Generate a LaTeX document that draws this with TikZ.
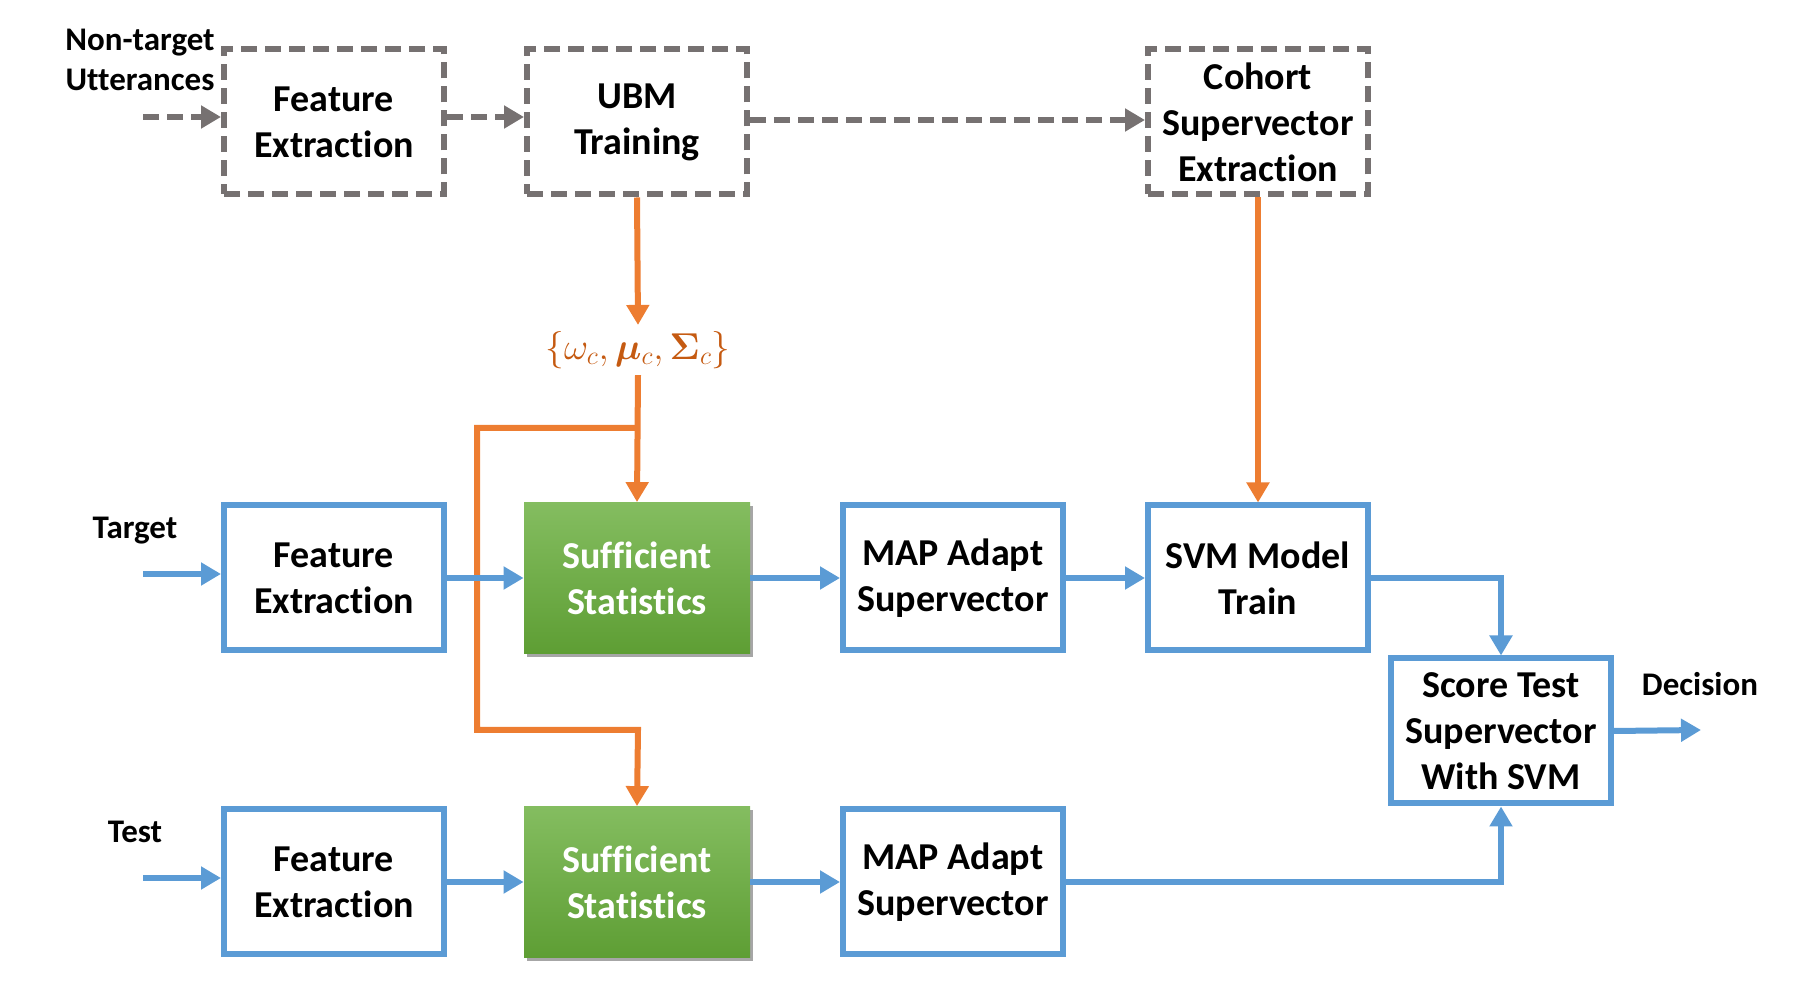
\documentclass[tikz,border=0pt]{standalone}
\usepackage{fontspec}
\usepackage{amsmath,bm,graphicx}
\setmainfont[Ligatures=NoCommon]{Carlito}
\usetikzlibrary{arrows.meta,shadows}
\definecolor{flowblue}{HTML}{5B9BD5}
\definecolor{ubmorange}{HTML}{ED7D31}
\definecolor{paramorange}{HTML}{C55A11}
\definecolor{dashgray}{HTML}{767171}
\definecolor{greentop}{HTML}{84BD60}
\definecolor{greenbot}{HTML}{5E9E34}
\tikzset{
  boxtext/.style={font=\fontsize{19}{23}\selectfont\bfseries, align=center},
  bluebox/.style={boxtext, draw=flowblue, line width=3pt, fill=white,
    minimum width=110pt, minimum height=72.5pt, inner sep=0pt},
  graybox/.style={boxtext, draw=dashgray, line width=3pt, dash pattern=on 8pt off 4pt,
    minimum width=110pt, minimum height=72.5pt, inner sep=0pt},
  greenbox/.style={boxtext, text=white, top color=greentop, bottom color=greenbot,
    minimum width=113pt, minimum height=75.5pt, inner sep=0pt,
    drop shadow={shadow xshift=1.5pt, shadow yshift=-2pt, opacity=0.35, fill=black}},
  lbl/.style={font=\fontsize{16.5}{20}\selectfont\bfseries, align=center, inner sep=0pt},
  tip/.style={-{Triangle[length=10pt,width=11pt]}},
  bluearrow/.style={tip, draw=flowblue, line width=3pt},
  orangearrow/.style={tip, draw=ubmorange, line width=3pt},
  grayarrow/.style={tip, draw=dashgray, line width=3pt, dash pattern=on 8pt off 4pt},
}
\begin{document}
\begin{tikzpicture}[x=0.5pt, y=-0.5pt]
\useasboundingbox (0,0) rectangle (1796,983);

% UBM training branch (dashed)
\node[graybox] (fe1) at (334,122) {Feature\\Extraction};
\node[graybox] (ubm) at (637,122) {UBM\\Training};
\node[graybox] (coh) at (1258,122) {Cohort\\Supervector\\Extraction};
\node[lbl] (nontarget) at (140,60) {Non-target\\Utterances};
\coordinate (in1) at (143,117);
\coordinate (ubmout) at (750,120);

% target enrollment row
\node[bluebox] (fe2) at (334,578) {Feature\\Extraction};
\node[greenbox] (ss1) at (637,578) {Sufficient\\Statistics};
\node[bluebox] (map1) at (953,578) {MAP Adapt\\Supervector};
\node[bluebox] (svm) at (1258,578) {SVM Model\\Train};
\node[lbl] (target) at (135,531) {Target};
\coordinate (in2) at (143,574);

% test row
\node[bluebox] (fe3) at (334,882) {Feature\\Extraction};
\node[greenbox] (ss2) at (637,882) {Sufficient\\Statistics};
\node[bluebox] (map2) at (953,882) {MAP Adapt\\Supervector};
\node[lbl] (test) at (135,832) {Test};
\coordinate (in3) at (143,878);

% scoring
\node[bluebox] (score) at (1501,731) {Score Test\\Supervector\\With SVM};
\node[lbl] (decision) at (1700,684) {Decision};
\coordinate (out) at (1701,730);

% UBM parameters
\node[text=paramorange, font=\fontsize{20}{24}\selectfont, inner sep=3pt] (params) at (638,350)
  {\scalebox{0.9}{$\{\omega_c, \bm{\mu}_c, \bm{\Sigma}_c\}$}};
\coordinate (split) at (638,428);

% dashed connectors
\draw[grayarrow] (in1) -- (fe1.west |- in1);
\draw[grayarrow] (fe1.east |- in1) -- (ubm.west |- in1);
\draw[grayarrow] (ubmout) -- (coh.west |- ubmout);

% orange connectors
\draw[orangearrow] (ubm.south) -- (params.north);
\draw[orangearrow] (params.south) -- (ss1.north);
\draw[orangearrow] (split) -- (477,428) -- (477,730) -- (638,730) -- (ss2.north);
\draw[orangearrow] (coh.south) -- (svm.north);

% blue connectors
\draw[bluearrow] (in2) -- (fe2.west |- in2);
\draw[bluearrow] (fe2) -- (ss1);
\draw[bluearrow] (ss1) -- (map1);
\draw[bluearrow] (map1) -- (svm);
\draw[bluearrow] (svm.east) -| (score.north);
\draw[bluearrow] (in3) -- (fe3.west |- in3);
\draw[bluearrow] (fe3) -- (ss2);
\draw[bluearrow] (ss2) -- (map2);
\draw[bluearrow] (map2.east) -| (score.south);
\draw[bluearrow] (score.east) -- (out);
\end{tikzpicture}
\end{document}
